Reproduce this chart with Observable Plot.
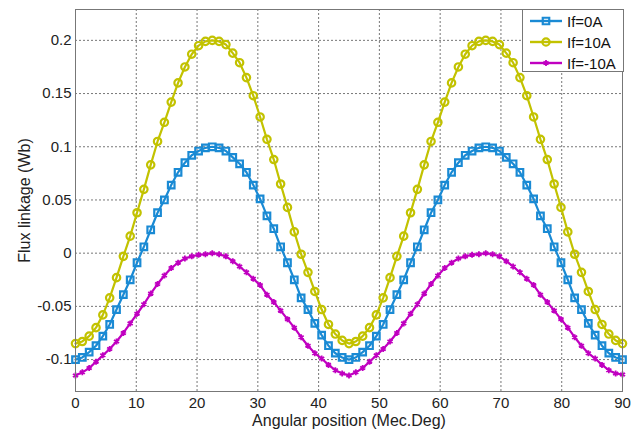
<!DOCTYPE html>
<html><head><meta charset="utf-8">
<script src="https://cdn.jsdelivr.net/npm/d3@7"></script>
<script src="https://cdn.jsdelivr.net/npm/@observablehq/plot@0.6"></script>
<style>
body{margin:0;background:#fff;}
#chart{position:relative;width:641px;height:437px;}
#chart svg{display:block;}
#legend{position:absolute;left:522px;top:9px;width:100px;height:61px;border:1px solid #777;background:#fff;font:15px 'Liberation Sans',Arial,sans-serif;color:#111;}
#legend .row{position:absolute;left:0;height:20px;display:flex;align-items:center;}
#legend svg{margin-left:7px;margin-right:5px;}
</style></head><body><div id="chart"></div>
<script>
const angles = [0,1.125,2.25,3.375,4.5,5.625,6.75,7.875,9,10.125,11.25,12.375,13.5,14.625,15.75,16.875,18,19.125,20.25,21.375,22.5,23.625,24.75,25.875,27,28.125,29.25,30.375,31.5,32.625,33.75,34.875,36,37.125,38.25,39.375,40.5,41.625,42.75,43.875,45,46.125,47.25,48.375,49.5,50.625,51.75,52.875,54,55.125,56.25,57.375,58.5,59.625,60.75,61.875,63,64.125,65.25,66.375,67.5,68.625,69.75,70.875,72,73.125,74.25,75.375,76.5,77.625,78.75,79.875,81,82.125,83.25,84.375,85.5,86.625,87.75,88.875,90];
const fluxIf0 = [-0.100,-0.098,-0.093,-0.087,-0.078,-0.067,-0.053,-0.039,-0.025,-0.009,0.006,0.022,0.038,0.050,0.064,0.076,0.085,0.092,0.096,0.099,0.100,
 0.099,0.096,0.090,0.084,0.076,0.064,0.051,0.035,0.023,0.006,-0.009,-0.025,-0.042,-0.053,-0.066,-0.077,-0.087,-0.094,-0.098,-0.100,
 -0.098,-0.093,-0.087,-0.078,-0.067,-0.053,-0.039,-0.025,-0.009,0.006,0.022,0.038,0.050,0.064,0.076,0.085,0.092,0.096,0.099,0.100,
 0.099,0.096,0.090,0.084,0.076,0.064,0.051,0.035,0.023,0.006,-0.009,-0.025,-0.042,-0.053,-0.066,-0.077,-0.087,-0.094,-0.098,-0.100];
const fluxIf10 = [-0.085,-0.083,-0.078,-0.070,-0.058,-0.042,-0.023,-0.003,0.016,0.038,0.060,0.083,0.105,0.123,0.142,0.160,0.175,0.187,0.195,0.199,0.200,
 0.199,0.196,0.188,0.179,0.165,0.148,0.128,0.107,0.088,0.065,0.043,0.020,-0.001,-0.018,-0.036,-0.053,-0.067,-0.076,-0.082,-0.085,
 -0.083,-0.078,-0.070,-0.058,-0.042,-0.023,-0.003,0.016,0.038,0.060,0.083,0.105,0.123,0.142,0.160,0.175,0.187,0.195,0.199,0.200,
 0.199,0.196,0.188,0.179,0.165,0.148,0.128,0.107,0.088,0.065,0.043,0.020,-0.001,-0.018,-0.036,-0.053,-0.067,-0.076,-0.082,-0.085];
const fluxIfm10 = [-0.115,-0.112,-0.108,-0.102,-0.096,-0.090,-0.083,-0.075,-0.066,-0.057,-0.048,-0.038,-0.029,-0.021,-0.014,-0.009,-0.005,-0.003,-0.0015,-0.001,0,
 -0.001,-0.003,-0.0075,-0.0125,-0.018,-0.024,-0.030,-0.039,-0.046,-0.054,-0.062,-0.070,-0.079,-0.087,-0.094,-0.099,-0.105,-0.110,-0.113,-0.115,
 -0.112,-0.108,-0.102,-0.096,-0.090,-0.083,-0.075,-0.066,-0.057,-0.048,-0.038,-0.029,-0.021,-0.014,-0.009,-0.005,-0.003,-0.0015,-0.001,0,
 -0.001,-0.003,-0.0075,-0.0125,-0.018,-0.024,-0.030,-0.039,-0.046,-0.054,-0.062,-0.070,-0.079,-0.087,-0.094,-0.099,-0.105,-0.110,-0.113,-0.114];
const seriesNames = ["If=0A","If=10A","If=-10A"];
const seriesColors = ["#1a8ad4","#c2c200","#c000c0"];
const seriesSymbols = ["square","circle","asterisk"];
const xTicks = [0,10,20,30,40,50,60,70,80,90];
const yTicks = [-0.1,-0.05,0,0.05,0.1,0.15,0.2];
const xLabel = "Angular position (Mec.Deg)";
const yLabel = "Flux linkage (Wb)";

const seriesValues = [fluxIf0, fluxIf10, fluxIfm10];
const tables = seriesValues.map((vals, s) => angles.map((a, i) => ({angle: a, flux: vals[i], series: seriesNames[s]})));

const marks = [
  Plot.gridX(xTicks, {stroke: "#777", strokeOpacity: 1, strokeDasharray: "2,2"}),
  Plot.gridY(yTicks, {stroke: "#777", strokeOpacity: 1, strokeDasharray: "2,2"}),
  Plot.axisX(xTicks, {tickSize: 0, tickPadding: 6, label: null}),
  Plot.axisY(yTicks, {tickSize: 0, tickPadding: 4, tickFormat: d => String(d), label: null}),
  Plot.text([xLabel], {frameAnchor: "bottom", textAnchor: "middle", lineAnchor: "middle", dy: 29, fontSize: 16, fill: "#222"}),
  Plot.text([yLabel], {frameAnchor: "left", textAnchor: "middle", lineAnchor: "middle", dx: -51, rotate: -90, fontSize: 16, fill: "#222"})
];
tables.forEach((t, s) => {
  marks.push(Plot.line(t, {x: "angle", y: "flux", stroke: seriesColors[s], strokeWidth: 2.2}));
  marks.push(Plot.dot(t, {x: "angle", y: "flux", stroke: seriesColors[s], symbol: () => seriesSymbols[s], r: s === 2 ? 2.8 : 3.7, strokeWidth: s === 2 ? 1.8 : 2.2, fill: "none"}));
});
marks.push(Plot.frame({stroke: "#777"}));

const chart = Plot.plot({
  width: 641, height: 437,
  marginLeft: 75, marginRight: 19, marginTop: 9, marginBottom: 46,
  style: {fontFamily: "'Liberation Sans', Arial, sans-serif", fontSize: "15px", color: "#222", background: "#fff", overflow: "visible"},
  x: {domain: [0, 90]},
  y: {domain: [-0.13, 0.229]},
  symbol: {type: "identity"},
  marks
});
const root = document.getElementById("chart");
root.appendChild(chart);

// legend
const legend = document.createElement("div");
legend.id = "legend";
seriesNames.forEach((name, s) => {
  const row = document.createElement("div");
  row.className = "row";
  row.style.top = (1 + s * 21) + "px";
  const sw = d3.create("svg").attr("width", 32).attr("height", 14);
  sw.append("line").attr("x1", 0).attr("x2", 32).attr("y1", 7).attr("y2", 7).attr("stroke", seriesColors[s]).attr("stroke-width", 2.4);
  const sym = d3.symbol(s === 0 ? d3.symbolSquare : s === 1 ? d3.symbolCircle : d3.symbolAsterisk, s === 2 ? 24 : 42)();
  sw.append("path").attr("d", sym).attr("transform", "translate(16,7)").attr("fill", "none").attr("stroke", seriesColors[s]).attr("stroke-width", s === 2 ? 1.8 : 2.2);
  row.appendChild(sw.node());
  const label = document.createElement("span");
  label.textContent = name;
  row.appendChild(label);
  legend.appendChild(row);
});
root.appendChild(legend);
</script></body></html>
